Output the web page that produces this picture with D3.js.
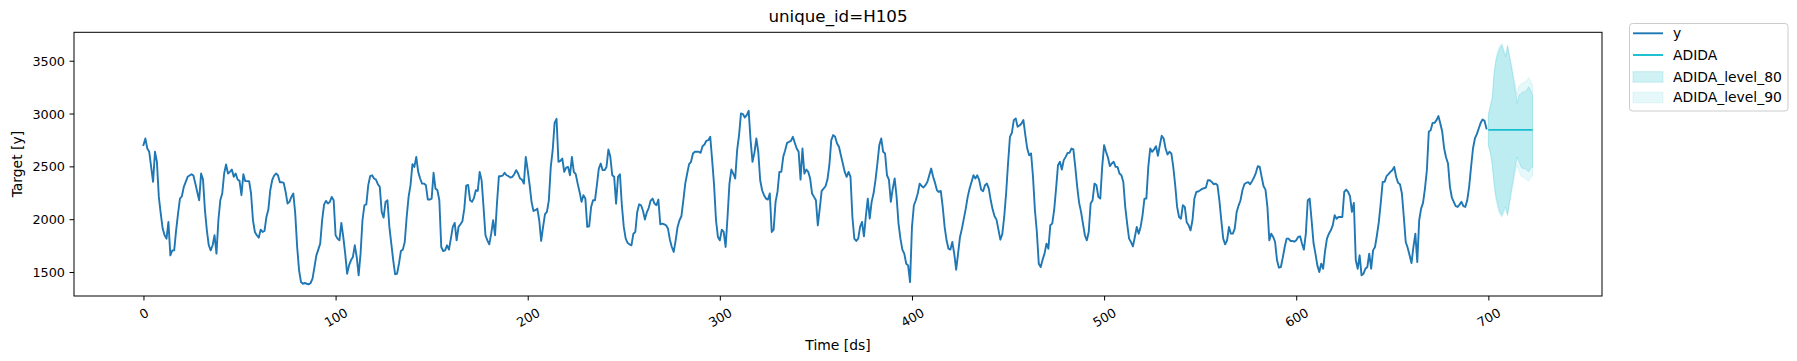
<!DOCTYPE html>
<html>
<head>
<meta charset="utf-8">
<script src="https://cdn.jsdelivr.net/npm/d3@7"></script>
<style>
  html, body { margin: 0; padding: 0; background: #ffffff; }
  svg { display: block; font-family: "DejaVu Sans", sans-serif; }
</style>
</head>
<body>
<svg id="chart" width="1797" height="361"></svg>
<script>
// ---------- data ----------
const yValues = [
2701,2764,2670,2638,2495,2353,2638,2543,2211,2053,
1911,1848,1816,1974,1658,1705,1705,1895,2053,2195,
2217,2306,2353,2401,2413,2426,2413,2337,2258,2179,
2432,2375,2085,1895,1753,1705,1753,1848,1674,1990,
2179,2243,2432,2518,2432,2448,2470,2401,2432,2375,
2363,2227,2426,2360,2360,2360,2243,1990,1879,1848,
1825,1901,1879,1889,2021,2091,2274,2369,2413,2432,
2416,2350,2350,2344,2258,2148,2164,2211,2243,2053,
1737,1516,1405,1389,1396,1389,1383,1396,1437,1547,
1658,1712,1769,1990,2138,2173,2148,2164,2211,2179,
1848,1816,1800,1965,1832,1674,1484,1563,1611,1642,
1753,1642,1468,1674,1990,2132,2141,2322,2407,2416,
2385,2375,2331,2306,2069,2015,2164,2179,1927,1769,
1611,1478,1484,1579,1699,1712,1784,2021,2211,2322,
2521,2495,2590,2448,2385,2337,2337,2322,2186,2186,
2195,2439,2290,2274,2179,1737,1699,1705,1753,1712,
1816,1927,1965,1800,1927,1952,1980,2100,2318,2325,
2179,2164,2200,2274,2268,2448,2369,2116,1848,1800,
1762,1863,1990,1848,2148,2407,2407,2413,2439,2416,
2407,2394,2401,2426,2464,2432,2385,2375,2337,2590,
2464,2322,2164,2078,2085,2100,1990,1794,1927,2047,
2069,2179,2495,2653,2912,2950,2543,2552,2574,2448,
2489,2495,2416,2590,2448,2426,2337,2258,2164,2227,
2195,1927,1933,2116,2179,2179,2322,2479,2527,2464,
2464,2495,2660,2590,2416,2401,2148,2401,2426,2132,
1927,1816,1775,1762,1753,1863,1879,2069,2141,2132,
2080,1996,2065,2108,2176,2195,2148,2132,2186,1952,
1958,1952,1942,1911,1806,1737,1690,1800,1927,1990,
2028,2179,2337,2432,2521,2543,2622,2638,2638,2638,
2628,2691,2707,2742,2748,2780,2559,2322,1990,1832,
1800,1901,1879,1737,2021,2337,2470,2432,2385,2653,
2796,3001,2995,2963,2985,3026,2748,2543,2628,2764,
2638,2369,2274,2227,2195,2186,2243,1879,1901,2164,
2258,2448,2448,2590,2653,2723,2732,2742,2780,2723,
2669,2638,2375,2669,2432,2470,2448,2385,2243,2211,
2179,1942,2100,2268,2290,2312,2375,2511,2748,2796,
2780,2717,2685,2606,2527,2448,2401,2448,2401,2021,
1816,1794,1816,1927,1974,1838,2028,2195,2005,2164,
2243,2369,2527,2701,2764,2638,2622,2416,2375,2164,
2290,2385,2211,1958,1816,1712,1674,1579,1563,1405,
1927,2132,2179,2243,2337,2315,2300,2322,2353,2416,
2479,2401,2344,2274,2258,2268,2116,1927,1800,1721,
1712,1784,1674,1522,1674,1832,1911,2005,2100,2211,
2290,2353,2416,2385,2416,2369,2280,2265,2322,2337,
2290,2179,2091,2028,1996,1901,1806,1857,2021,2243,
2527,2780,2818,2938,2954,2875,2887,2906,2938,2796,
2669,2606,2622,2401,2085,1879,1579,1547,1617,1674,
1769,1721,1942,1958,2085,2290,2511,2543,2470,2559,
2590,2628,2628,2669,2660,2495,2306,2154,2069,1958,
1848,1800,1879,2148,2179,2337,2322,2211,2195,2495,
2701,2638,2584,2502,2527,2543,2495,2495,2432,2416,
2353,2116,1958,1816,1784,1743,1832,1927,1863,1927,
2037,2195,2195,2495,2669,2638,2660,2691,2600,2700,
2790,2764,2669,2612,2638,2622,2495,2322,2116,2021,
2005,2132,2116,1971,1942,1895,1990,2195,2258,2262,
2274,2287,2293,2299,2369,2369,2353,2331,2337,2322,
2179,1990,1816,1762,1800,1927,1863,1863,1911,2069,
2129,2179,2274,2331,2344,2350,2331,2360,2394,2439,
2502,2495,2401,2312,2280,2116,1800,1863,1832,1784,
1611,1541,1547,1636,1737,1816,1816,1794,1794,1787,
1800,1832,1838,1769,1712,1863,2179,2195,1990,1775,
1674,1563,1500,1579,1531,1699,1816,1863,1895,1942,
2037,2005,2021,2021,2021,2258,2280,2258,2217,2069,
2154,1611,1531,1658,1468,1484,1531,1547,1674,1531,
1705,1737,1848,1974,2154,2353,2353,2407,2426,2448,
2464,2495,2401,2344,2331,2243,2021,1784,1730,1658,
1585,1737,1863,1595,1990,2100,2154,2290,2464,2827,
2843,2912,2912,2938,2976,2906,2827,2669,2584,2527,
2306,2205,2164,2123,2116,2138,2164,2123,2116,2179,
2306,2495,2669,2764,2805,2859,2912,2944,2931,2859
];
const yStartDs = 0;

const fcStartDs = 700;
const adida = [2845,2845,2845,2845,2845,2845,2845,2845,2845,2845,2845,2845,
               2845,2845,2845,2845,2845,2845,2845,2845,2845,2845,2845,2845];
const hi80 = [2985,3064,3143,3380,3507,3570,3617,3649,3586,3538,3633,3538,
              3443,3333,3222,3096,3175,3190,3206,3206,3222,3254,3222,3175];
const lo80 = [2701,2638,2527,2337,2211,2132,2069,2037,2085,2116,2047,2163,
              2274,2385,2495,2590,2543,2495,2480,2480,2464,2448,2480,2495];
const hi90 = [2995,3080,3160,3400,3530,3600,3645,3665,3610,3560,3650,3560,
              3470,3370,3270,3180,3260,3280,3290,3300,3310,3340,3310,3270];
const lo90 = [2690,2620,2505,2310,2180,2100,2040,2020,2060,2090,2030,2130,
              2240,2340,2440,2510,2460,2410,2400,2390,2370,2360,2390,2410];

const xTicks = [0, 100, 200, 300, 400, 500, 600, 700];
const yTicks = [1500, 2000, 2500, 3000, 3500];
const titleText = "unique_id=H105";
const xLabel = "Time [ds]";
const yLabel = "Target [y]";
const legendLabels = ["y", "ADIDA", "ADIDA_level_80", "ADIDA_level_90"];

// ---------- build ----------
const yData = yValues.map((v, i) => ({ ds: yStartDs + i, v }));
const fcData = adida.map((v, i) => ({
  ds: fcStartDs + i, v, lo80: lo80[i], hi80: hi80[i], lo90: lo90[i], hi90: hi90[i]
}));

const W = 1797, H = 361;
const M = { left: 74, right: 1602, top: 32.3, bottom: 296 };
const blue = "#1f77b4", cyan = "#17becf";
const FS = 12.8;      // tick labels
const LFS = 13.9;     // axis labels & legend
const TFS = 16.7;     // title

const svg = d3.select("#chart");
svg.append("rect").attr("width", W).attr("height", H).attr("fill", "#fff");

const x = d3.scaleLinear().domain([-36.15, 759.15]).range([M.left, M.right]);
const y = d3.scaleLinear().domain([1273, 3769]).range([M.bottom, M.top]);

const plot = svg.append("g");
plot.append("defs").append("clipPath").attr("id", "clip")
  .append("rect").attr("x", M.left).attr("y", M.top)
  .attr("width", M.right - M.left).attr("height", M.bottom - M.top);
const inner = plot.append("g").attr("clip-path", "url(#clip)");

// bands
const area90 = d3.area().x(d => x(d.ds)).y0(d => y(d.lo90)).y1(d => y(d.hi90));
const area80 = d3.area().x(d => x(d.ds)).y0(d => y(d.lo80)).y1(d => y(d.hi80));
inner.append("path").datum(fcData).attr("d", area80)
  .attr("fill", cyan).attr("fill-opacity", 0.2)
  .attr("stroke", cyan).attr("stroke-opacity", 0.2).attr("stroke-width", 1);
inner.append("path").datum(fcData).attr("d", area90)
  .attr("fill", cyan).attr("fill-opacity", 0.1)
  .attr("stroke", cyan).attr("stroke-opacity", 0.1).attr("stroke-width", 1);

// lines
const line = d3.line().x(d => x(d.ds)).y(d => y(d.v));
inner.append("path").datum(yData).attr("d", line)
  .attr("fill", "none").attr("stroke", blue).attr("stroke-width", 1.9)
  .attr("stroke-linejoin", "round").attr("stroke-linecap", "square");
inner.append("path").datum(fcData).attr("d", line)
  .attr("fill", "none").attr("stroke", cyan).attr("stroke-width", 1.9);

// axes
const xAxis = d3.axisBottom(x).tickValues(xTicks).tickSize(4.5).tickPadding(4.5).tickFormat(d3.format("d"));
const yAxis = d3.axisLeft(y).tickValues(yTicks).tickSize(4.5).tickPadding(4.5).tickFormat(d3.format("d"));

const gx = svg.append("g").attr("transform", `translate(0,${M.bottom})`).call(xAxis);
const gy = svg.append("g").attr("transform", `translate(${M.left},0)`).call(yAxis);
[gx, gy].forEach(g => {
  g.select(".domain").remove();
  g.selectAll(".tick line").attr("stroke", "#000").attr("stroke-width", 1);
  g.selectAll(".tick text").attr("fill", "#000").attr("font-size", FS)
    .attr("font-family", "DejaVu Sans, sans-serif");
});
gy.selectAll(".tick text").attr("dy", "0.35em");

// rotate x tick labels 30deg, centered on tick, top of rotated bbox below tick
gx.selectAll(".tick text").each(function () {
  const t = d3.select(this);
  const w = this.getComputedTextLength();
  const h = FS * 1.17;
  const a = Math.PI / 6;
  const bh = w * Math.sin(a) + h * Math.cos(a);
  const cy = 4.5 + 4.5 + bh / 2;
  t.attr("y", null).attr("dy", null)
    .attr("text-anchor", "middle").attr("dominant-baseline", "central")
    .attr("transform", `translate(0,${cy}) rotate(-30)`);
});

// frame
svg.append("rect").attr("x", M.left).attr("y", M.top)
  .attr("width", M.right - M.left).attr("height", M.bottom - M.top)
  .attr("fill", "none").attr("stroke", "#000").attr("stroke-width", 1);

// title & labels
svg.append("text").attr("x", (M.left + M.right) / 2).attr("y", 22)
  .attr("text-anchor", "middle").attr("font-size", TFS).attr("fill", "#000").text(titleText);
svg.append("text").attr("x", (M.left + M.right) / 2).attr("y", 350)
  .attr("text-anchor", "middle").attr("font-size", LFS).attr("fill", "#000").text(xLabel);
svg.append("text").attr("transform", `translate(22,${(M.top + M.bottom) / 2}) rotate(-90)`)
  .attr("text-anchor", "middle").attr("font-size", LFS).attr("fill", "#000").text(yLabel);

// legend
const lg = svg.append("g");
lg.append("rect").attr("x", 1629.5).attr("y", 23.5).attr("width", 158.5).attr("height", 87.5)
  .attr("rx", 3).attr("fill", "#fff").attr("fill-opacity", 0.8)
  .attr("stroke", "#cccccc").attr("stroke-width", 1);
const rowsY = [33.3, 55, 76.7, 97.3];
const hx0 = 1633, hx1 = 1663;
lg.append("line").attr("x1", hx0).attr("x2", hx1).attr("y1", rowsY[0]).attr("y2", rowsY[0])
  .attr("stroke", blue).attr("stroke-width", 1.9);
lg.append("line").attr("x1", hx0).attr("x2", hx1).attr("y1", rowsY[1]).attr("y2", rowsY[1])
  .attr("stroke", cyan).attr("stroke-width", 1.9);
lg.append("rect").attr("x", hx0).attr("y", rowsY[2] - 5).attr("width", hx1 - hx0).attr("height", 10.5)
  .attr("fill", cyan).attr("fill-opacity", 0.2).attr("stroke", cyan).attr("stroke-opacity", 0.2);
lg.append("rect").attr("x", hx0).attr("y", rowsY[3] - 5).attr("width", hx1 - hx0).attr("height", 10.5)
  .attr("fill", cyan).attr("fill-opacity", 0.1).attr("stroke", cyan).attr("stroke-opacity", 0.1);
legendLabels.forEach((lab, i) => {
  lg.append("text").attr("x", 1673).attr("y", rowsY[i]).attr("dy", "0.36em")
    .attr("font-size", LFS).attr("fill", "#000").text(lab);
});
</script>
</body>
</html>
